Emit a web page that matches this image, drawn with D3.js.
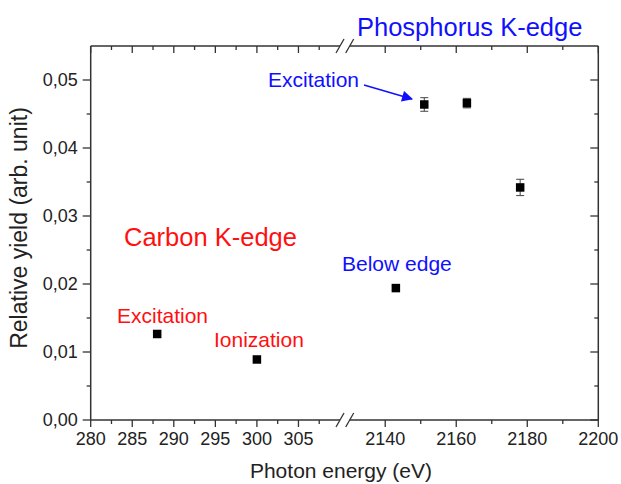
<!DOCTYPE html>
<html>
<head>
<meta charset="utf-8">
<script src="https://d3js.org/d3.v7.min.js"></script>
<style>
    body { margin: 0; background: #fff; }
    text { font-family: "Liberation Sans", Arial, sans-serif; }
</style>
</head>
<body>
<div id="chart"></div>
<script>
    // data
    var carbonEnergy = [288, 300];
    var carbonYield  = [0.01265, 0.0089];
    var phosEnergy = [2143, 2151, 2163, 2178];
    var phosYield  = [0.0194, 0.0464, 0.0466, 0.0342];
    var phosErr    = [0.0003, 0.0010, 0.0007, 0.0012];

    var lowTicks  = [280, 285, 290, 295, 300, 305];
    var lowMinor  = [282.5, 287.5, 292.5, 297.5, 302.5, 307.5];
    var highTicks = [2140, 2160, 2180, 2200];
    var highMinor = [2150, 2170, 2190];
    var yTicks = [0, 0.01, 0.02, 0.03, 0.04, 0.05];
    var yMinor = [0.005, 0.015, 0.025, 0.035, 0.045];

    var width = 621, height = 484;
    var plotLeft = 90.7, plotRight = 598.3, plotTop = 46, plotBottom = 420;
    var breakL = 340, breakR = 349.7;

    var svg = d3.select('#chart').append('svg')
        .attr('width', width)
        .attr('height', height);

    // broken x axis -> two scales
    var xLow = d3.scaleLinear().domain([280, 310]).range([plotLeft, breakL]);
    var xHigh = d3.scaleLinear().domain([2130, 2200]).range([breakR, plotRight]);
    var y = d3.scaleLinear().domain([0, 0.055]).range([plotBottom, plotTop]);

    var axisColor = '#333';
    var g = svg.append('g');

    // frame lines with gaps at the break
    [plotBottom, plotTop].forEach(function(yy) {
        g.append('line').attr('x1', plotLeft).attr('x2', breakL).attr('y1', yy).attr('y2', yy)
            .attr('stroke', axisColor).attr('stroke-width', 1.5);
        g.append('line').attr('x1', breakR).attr('x2', plotRight).attr('y1', yy).attr('y2', yy)
            .attr('stroke', axisColor).attr('stroke-width', 1.5);
        // the // marks
        [breakL, breakR].forEach(function(bx) {
            g.append('line').attr('x1', bx - 4).attr('y1', yy + 7).attr('x2', bx + 4).attr('y2', yy - 7)
                .attr('stroke', axisColor).attr('stroke-width', 1.3);
        });
    });
    g.append('line').attr('x1', plotLeft).attr('x2', plotLeft).attr('y1', plotTop).attr('y2', plotBottom)
        .attr('stroke', axisColor).attr('stroke-width', 1.5);
    g.append('line').attr('x1', plotRight).attr('x2', plotRight).attr('y1', plotTop).attr('y2', plotBottom)
        .attr('stroke', axisColor).attr('stroke-width', 1.5);

    // x ticks (bottom out, top in)
    function xTicks(scale, vals, len) {
        vals.forEach(function(v) {
            var xx = scale(v);
            g.append('line').attr('x1', xx).attr('x2', xx).attr('y1', plotBottom).attr('y2', plotBottom + len)
                .attr('stroke', axisColor).attr('stroke-width', 1.3);
            g.append('line').attr('x1', xx).attr('x2', xx).attr('y1', plotTop).attr('y2', plotTop + len)
                .attr('stroke', axisColor).attr('stroke-width', 1.3);
        });
    }
    xTicks(xLow, lowTicks, 7);
    xTicks(xLow, lowMinor, 4);
    xTicks(xHigh, highTicks, 7);
    xTicks(xHigh, highMinor, 4);

    // y ticks (left out, right in)
    function yTickLines(vals, len) {
        vals.forEach(function(v) {
            var yy = y(v);
            g.append('line').attr('x1', plotLeft - len).attr('x2', plotLeft).attr('y1', yy).attr('y2', yy)
                .attr('stroke', axisColor).attr('stroke-width', 1.3);
            g.append('line').attr('x1', plotRight - len).attr('x2', plotRight).attr('y1', yy).attr('y2', yy)
                .attr('stroke', axisColor).attr('stroke-width', 1.3);
        });
    }
    yTickLines(yTicks, 8);
    yTickLines(yMinor, 4);

    // tick labels
    var tickFont = 18;
    lowTicks.forEach(function(v) {
        g.append('text').text(v).attr('x', xLow(v)).attr('y', plotBottom + 25)
            .attr('text-anchor', 'middle').attr('font-size', tickFont).attr('fill', '#222');
    });
    highTicks.forEach(function(v) {
        g.append('text').text(v).attr('x', xHigh(v)).attr('y', plotBottom + 25)
            .attr('text-anchor', 'middle').attr('font-size', tickFont).attr('fill', '#222');
    });
    yTicks.forEach(function(v) {
        g.append('text').text(d3.format('.2f')(v).replace('.', ','))
            .attr('x', plotLeft - 13).attr('y', y(v) + 6)
            .attr('text-anchor', 'end').attr('font-size', tickFont).attr('fill', '#222');
    });

    // axis titles
    svg.append('text').text('Photon energy (eV)')
        .attr('x', 341).attr('y', 478)
        .attr('text-anchor', 'middle').attr('font-size', 21).attr('fill', '#222');
    svg.append('text').text('Relative yield (arb. unit)')
        .attr('transform', 'translate(27,228) rotate(-90)')
        .attr('text-anchor', 'middle').attr('font-size', 23).attr('fill', '#222');

    // error bars
    phosEnergy.forEach(function(e, i) {
        var xx = xHigh(e), y1 = y(phosYield[i] + phosErr[i]), y2 = y(phosYield[i] - phosErr[i]);
        g.append('line').attr('x1', xx).attr('x2', xx).attr('y1', y1).attr('y2', y2)
            .attr('stroke', '#444').attr('stroke-width', 1);
        [y1, y2].forEach(function(yy) {
            g.append('line').attr('x1', xx - 4).attr('x2', xx + 4).attr('y1', yy).attr('y2', yy)
                .attr('stroke', '#444').attr('stroke-width', 1);
        });
    });

    // markers
    var sq = 8.5;
    svg.selectAll('rect.carbon')
        .data(carbonEnergy)
        .enter()
        .append('rect')
        .attr('class', 'carbon')
        .attr('x', (d) => xLow(d) - sq / 2)
        .attr('y', (d, i) => y(carbonYield[i]) - sq / 2)
        .attr('width', sq).attr('height', sq)
        .attr('fill', '#000');
    svg.selectAll('rect.phos')
        .data(phosEnergy)
        .enter()
        .append('rect')
        .attr('class', 'phos')
        .attr('x', (d) => xHigh(d) - sq / 2)
        .attr('y', (d, i) => y(phosYield[i]) - sq / 2)
        .attr('width', sq).attr('height', sq)
        .attr('fill', '#000');

    // annotations
    var blue = '#1010ff', red = '#ff1010';
    function label(t, x, yy, size, color) {
        svg.append('text').text(t).attr('x', x).attr('y', yy)
            .attr('font-size', size).attr('fill', color);
    }
    label('Phosphorus K-edge', 357, 36, 25.5, blue);
    label('Excitation', 268, 87, 21, blue);
    label('Below edge', 342, 271, 21, blue);
    label('Carbon K-edge', 124, 246, 25.5, red);
    label('Excitation', 117, 323, 21, red);
    label('Ionization', 214, 347, 21, red);

    // arrow
    svg.append('defs').append('marker')
        .attr('id', 'head')
        .attr('viewBox', '0 0 10 10')
        .attr('refX', 9).attr('refY', 5)
        .attr('markerWidth', 13).attr('markerHeight', 11)
        .attr('markerUnits', 'userSpaceOnUse')
        .attr('orient', 'auto')
        .append('path').attr('d', 'M0,0 L10,5 L0,10 z').attr('fill', blue);
    svg.append('line')
        .attr('x1', 364).attr('y1', 85).attr('x2', 412).attr('y2', 99)
        .attr('stroke', blue).attr('stroke-width', 1.5)
        .attr('marker-end', 'url(#head)');
</script>
</body>
</html>
